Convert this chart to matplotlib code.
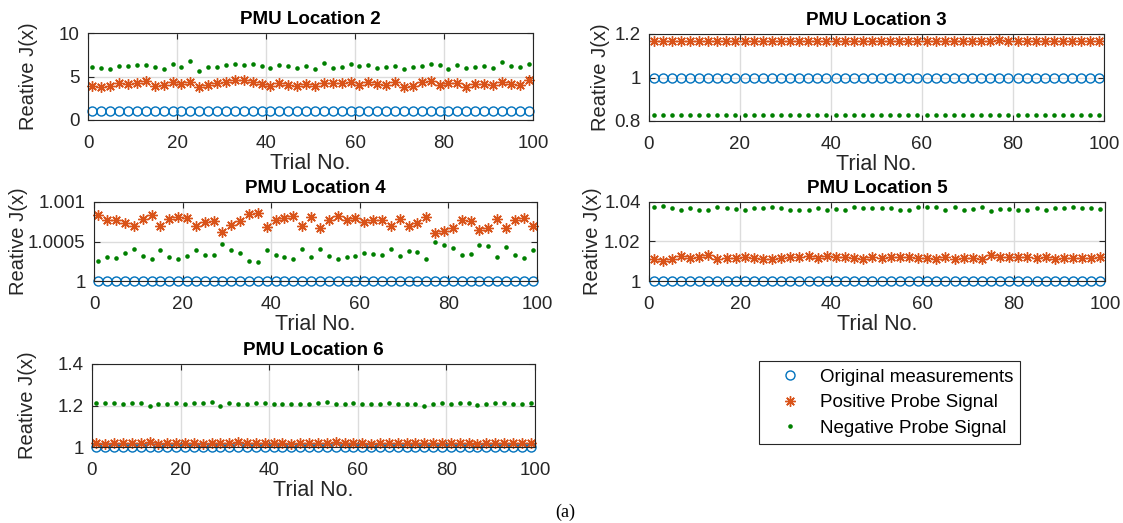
import numpy as np
import matplotlib.pyplot as plt

plt.rcParams['font.family'] = ['Liberation Sans', 'DejaVu Sans']

# trial numbers (every other trial is plotted)
trials = list(range(1, 100, 2))
orig = [1.0] * 50

# PMU location 2
pos2 = [3.96, 3.84, 3.96, 4.31, 4.15, 4.27, 4.54, 3.88, 4.00, 4.38,
        4.19, 4.42, 3.84, 4.04, 4.23, 4.38, 4.61, 4.61, 4.34, 4.19,
        3.92, 4.27, 4.04, 3.92, 4.15, 3.96, 4.27, 4.31, 4.31, 4.42,
        4.08, 4.34, 4.19, 4.04, 4.42, 3.81, 3.92, 4.34, 4.46, 4.08,
        4.27, 4.23, 3.84, 4.19, 4.19, 4.08, 4.34, 4.15, 4.00, 4.58]
neg2 = [6.11, 5.96, 5.88, 6.23, 6.15, 6.34, 6.31, 6.04, 5.84, 6.46,
        6.11, 6.73, 5.65, 6.11, 6.07, 6.31, 6.38, 6.34, 6.46, 6.15,
        5.92, 6.27, 6.23, 5.96, 6.15, 5.88, 6.54, 6.00, 6.04, 6.38,
        6.23, 6.31, 5.96, 6.07, 6.23, 5.88, 6.11, 6.15, 6.46, 6.27,
        5.88, 6.27, 5.92, 6.07, 6.15, 5.92, 6.61, 6.23, 6.07, 6.46]

# PMU location 3
pos3 = [1.168, 1.168, 1.167, 1.168, 1.168, 1.168, 1.167, 1.168, 1.168, 1.168,
        1.168, 1.168, 1.167, 1.168, 1.168, 1.168, 1.168, 1.167, 1.168, 1.168,
        1.168, 1.168, 1.168, 1.167, 1.168, 1.168, 1.168, 1.168, 1.168, 1.167,
        1.168, 1.168, 1.168, 1.168, 1.168, 1.168, 1.167, 1.168, 1.174, 1.168,
        1.168, 1.168, 1.168, 1.168, 1.167, 1.168, 1.168, 1.168, 1.168, 1.168]
neg3 = [0.829, 0.829, 0.829, 0.829, 0.829, 0.829, 0.829, 0.829, 0.829, 0.829,
        0.829, 0.829, 0.829, 0.829, 0.829, 0.829, 0.829, 0.829, 0.829, 0.828,
        0.829, 0.829, 0.829, 0.829, 0.829, 0.829, 0.829, 0.829, 0.829, 0.829,
        0.829, 0.829, 0.829, 0.829, 0.829, 0.829, 0.829, 0.829, 0.826, 0.829,
        0.829, 0.829, 0.829, 0.829, 0.829, 0.829, 0.829, 0.829, 0.829, 0.829]

# PMU location 4 (offsets from 1, x1e-4)
pos4 = [8.33, 7.71, 7.75, 7.33, 6.92, 7.83, 8.33, 6.92, 7.83, 8.04,
        8.00, 6.92, 7.50, 7.58, 6.25, 7.08, 7.54, 8.42, 8.58, 6.88,
        7.75, 7.92, 8.17, 6.92, 8.13, 6.71, 7.75, 8.25, 7.75, 7.92,
        7.42, 7.67, 7.75, 7.00, 7.83, 7.00, 7.33, 8.13, 6.08, 6.38,
        6.67, 7.75, 7.54, 6.46, 6.75, 7.88, 6.67, 7.75, 8.00, 7.00]
neg4 = [2.58, 3.04, 2.92, 3.58, 4.04, 3.21, 2.79, 3.92, 3.08, 2.83,
        3.13, 3.96, 3.33, 3.33, 4.71, 3.96, 3.58, 2.50, 2.46, 3.92,
        3.33, 3.08, 2.79, 4.04, 3.08, 4.08, 3.13, 2.75, 3.00, 3.17,
        3.54, 3.38, 3.25, 4.00, 3.21, 3.79, 3.63, 2.79, 4.96, 4.54,
        4.21, 3.29, 3.46, 4.54, 4.38, 3.04, 4.29, 3.33, 2.96, 3.92]

# PMU location 5
pos5 = [1.0113, 1.0103, 1.0112, 1.0125, 1.0115, 1.0122, 1.0132, 1.0110, 1.0115, 1.0118,
        1.0123, 1.0117, 1.0113, 1.0113, 1.0118, 1.0120, 1.0122, 1.0125, 1.0118, 1.0127,
        1.0120, 1.0122, 1.0115, 1.0113, 1.0120, 1.0117, 1.0120, 1.0123, 1.0123, 1.0115,
        1.0115, 1.0113, 1.0122, 1.0110, 1.0118, 1.0117, 1.0110, 1.0130, 1.0120, 1.0122,
        1.0123, 1.0122, 1.0115, 1.0123, 1.0113, 1.0118, 1.0117, 1.0117, 1.0117, 1.0123]
neg5 = [1.0373, 1.0380, 1.0372, 1.0362, 1.0370, 1.0362, 1.0357, 1.0377, 1.0368, 1.0365,
        1.0362, 1.0368, 1.0372, 1.0373, 1.0370, 1.0362, 1.0362, 1.0362, 1.0368, 1.0358,
        1.0365, 1.0357, 1.0375, 1.0368, 1.0370, 1.0372, 1.0370, 1.0362, 1.0362, 1.0377,
        1.0373, 1.0373, 1.0362, 1.0377, 1.0360, 1.0367, 1.0377, 1.0353, 1.0363, 1.0367,
        1.0360, 1.0362, 1.0370, 1.0360, 1.0370, 1.0372, 1.0375, 1.0372, 1.0368, 1.0363]

# PMU location 6
pos6 = [1.018, 1.016, 1.017, 1.021, 1.017, 1.019, 1.025, 1.016, 1.018, 1.017,
        1.019, 1.017, 1.016, 1.018, 1.017, 1.020, 1.022, 1.018, 1.017, 1.019,
        1.017, 1.018, 1.016, 1.019, 1.017, 1.018, 1.017, 1.022, 1.017, 1.018,
        1.017, 1.016, 1.019, 1.018, 1.017, 1.018, 1.020, 1.017, 1.018, 1.017,
        1.019, 1.017, 1.018, 1.016, 1.018, 1.017, 1.019, 1.018, 1.017, 1.018]
neg6 = [1.210, 1.212, 1.212, 1.205, 1.212, 1.212, 1.199, 1.207, 1.205, 1.212,
        1.207, 1.210, 1.210, 1.215, 1.200, 1.210, 1.208, 1.208, 1.212, 1.210,
        1.207, 1.208, 1.208, 1.208, 1.207, 1.212, 1.215, 1.208, 1.208, 1.210,
        1.208, 1.208, 1.207, 1.210, 1.208, 1.208, 1.208, 1.199, 1.208, 1.210,
        1.205, 1.213, 1.210, 1.204, 1.208, 1.210, 1.213, 1.208, 1.208, 1.210]

blue = '#0072BD'
orange = '#D95319'
green = '#008000'
axc = '#262626'

W, H = 1123, 523
fig = plt.figure(figsize=(W / 100, H / 100), dpi=100)

# axes boxes in pixels: left, top, right, bottom, y-label centre x
boxes = {
    2: (88, 33, 533, 120, 28),
    3: (649, 34, 1104, 121, 601),
    4: (94, 202, 537, 281, 19),
    5: (649, 202, 1105, 281, 592),
    6: (92, 364, 535, 447, 28),
}


def make_ax(box):
    l, t, r, b, yl = box
    ax = fig.add_axes([l / W, 1 - b / H, (r - l) / W, (b - t) / H])
    ax.ylab_x = (yl - l) / (r - l)
    return ax


def draw(ax, pos, neg, title, ylim, yticks, yticklabels):
    ax.plot(trials, orig, 'o', mfc='none', mec=blue, ms=6.5, mew=1.0,
            clip_on=False, label='Original measurements')
    ax.plot(trials, pos, ls='none', marker=(8, 2, 0), mec=orange, mfc=orange,
            ms=7.5, mew=1.0, clip_on=False, label='Positive Probe Signal')
    ax.plot(trials, neg, 'o', color=green, ms=3.3, mew=0, clip_on=False,
            label='Negative Probe Signal')
    ax.set_xlim(0, 100)
    ax.set_xticks([0, 20, 40, 60, 80, 100])
    ax.set_ylim(*ylim)
    ax.set_yticks(yticks)
    ax.set_yticklabels(yticklabels)
    ax.set_title(title, fontsize=13.5, fontweight='bold', pad=6.5)
    ax.set_xlabel('Trial No.', fontsize=15.5, color=axc, labelpad=1)
    ax.set_ylabel('Reative J(x)', fontsize=14.5, color=axc, va='center')
    ax.yaxis.set_label_coords(ax.ylab_x, 0.5)
    ax.grid(True, color='#dcdcdc', lw=1.0)
    ax.set_axisbelow(True)
    ax.tick_params(direction='in', top=True, right=True, length=4,
                   width=0.8, colors=axc, labelsize=13.5)
    ax.tick_params(axis='x', pad=10.5)
    ax.tick_params(axis='y', pad=6)
    for s in ax.spines.values():
        s.set_color(axc)
        s.set_linewidth(0.8)


ax2 = make_ax(boxes[2])
draw(ax2, pos2, neg2, 'PMU Location 2', (0, 10), [0, 5, 10], ['0', '5', '10'])

ax3 = make_ax(boxes[3])
draw(ax3, pos3, neg3, 'PMU Location 3', (0.8, 1.2), [0.8, 1.0, 1.2],
     ['0.8', '1', '1.2'])

ax4 = make_ax(boxes[4])
draw(ax4, [1 + v * 1e-4 for v in pos4], [1 + v * 1e-4 for v in neg4],
     'PMU Location 4', (1, 1.001), [1, 1.0005, 1.001],
     ['1', '1.0005', '1.001'])

ax5 = make_ax(boxes[5])
draw(ax5, pos5, neg5, 'PMU Location 5', (1, 1.04), [1, 1.02, 1.04],
     ['1', '1.02', '1.04'])

ax6 = make_ax(boxes[6])
draw(ax6, pos6, neg6, 'PMU Location 6', (1, 1.4), [1, 1.2, 1.4],
     ['1', '1.2', '1.4'])

h, lab = ax6.get_legend_handles_labels()
leg = fig.legend(h, lab, loc='center', bbox_to_anchor=(889.5 / W, 1 - 402.5 / H),
                 fontsize=13.5, fancybox=False, edgecolor=axc, framealpha=1,
                 handlelength=2.6, handletextpad=0.25, labelspacing=0.45,
                 borderpad=0.4)
leg.get_frame().set_linewidth(0.8)

fig.text(565 / W, 1 - 512 / H, '(a)', ha='center', va='center',
         family='Liberation Serif', fontsize=13)

fig.savefig('out.png', dpi=100)
